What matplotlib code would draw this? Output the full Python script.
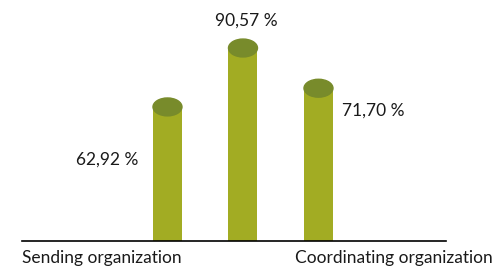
import matplotlib.pyplot as plt
from matplotlib.patches import Ellipse

# data
categories = ["Sending organization", "Participating organization", "Coordinating organization"]
values = [62.92, 90.57, 71.70]
value_labels = ["62,92 %", "90,57 %", "71,70 %"]

body_color = "#a2ac23"
top_color = "#788b2b"
font = "Lato"

W, H = 496, 269
fig = plt.figure(figsize=(W / 100, H / 100), dpi=100)
# axes spans the baseline from x=22 to 446 px, bottom at y=241 px
ax = fig.add_axes([22 / W, 28 / H, 424 / W, 241 / H])

x = list(range(len(values)))
bar_w = 0.384
ax.bar(x, values, width=bar_w, color=body_color, zorder=2)

ax.set_xlim(-1.927, 3.689)
ax.set_ylim(0, 113.1)

# cylinder tops
ell_h = 8.4
for xi, v in zip(x, values):
    ax.add_patch(Ellipse((xi, v), bar_w, ell_h, color=top_color, zorder=3))

for s in ["top", "right", "left"]:
    ax.spines[s].set_visible(False)
ax.spines["bottom"].set_linewidth(1.2)
ax.spines["bottom"].set_color("black")
ax.set_xticks([])
ax.set_yticks([])

fs = 12.5
txt = "#1a1a1a"
# value labels
ax.text(x[0] - bar_w / 2 - 0.2, 38.0, value_labels[0], ha="right", va="center",
        fontsize=fs, family=font, color=txt)
ax.text(x[1] + 0.05, values[1] + 12.7, value_labels[1], ha="center", va="center",
        fontsize=fs, family=font, color=txt)
ax.text(x[2] + bar_w / 2 + 0.12, values[2] - 10.5, value_labels[2], ha="left", va="center",
        fontsize=fs, family=font, color=txt)

# category labels (only outer two shown)
ax.text(0, -0.07, categories[0], transform=ax.transAxes, ha="left", va="center",
        fontsize=fs, family=font, color=txt)
ax.text((493 - 22) / 424, -0.07, categories[2], transform=ax.transAxes,
        ha="right", va="center", fontsize=fs, family=font, color=txt)

fig.savefig("out.png", dpi=100)
